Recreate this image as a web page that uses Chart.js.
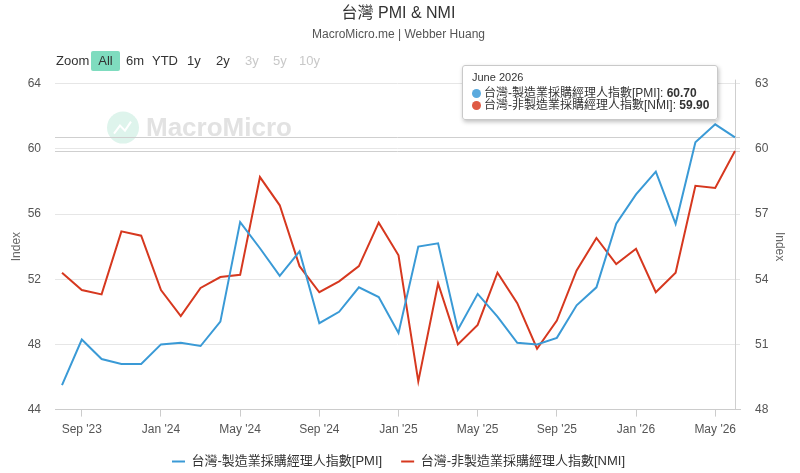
<!DOCTYPE html>
<html>
<head>
<meta charset="utf-8">
<title>台灣 PMI & NMI</title>
<script src="https://cdn.jsdelivr.net/npm/chart.js@4.4.1/dist/chart.umd.min.js"></script>
<style>
    body { margin: 0; background: #fff; font-family: "Liberation Sans", "Noto Sans CJK TC", sans-serif; }
    #wrap { position: relative; width: 800px; height: 473px; overflow: hidden; }
    #chart { position: absolute; left: 0; top: 0; }
    .zoom-bar { position: absolute; left: 0; top: 51px; height: 20px; font-size: 13px; color: #333; }
    .zoom-bar span { position: absolute; top: 0; height: 20px; line-height: 20px; white-space: nowrap; }
    .zoom-bar .btn-on { background: #7fdcbf; border-radius: 2px; text-align: center; }
    .zoom-bar .off { color: #c8c8c8; }
    #tip { position: absolute; top: 65px; background: rgba(255,255,255,0.97); border: 1px solid #c9c9c9; border-radius: 3px;
           box-shadow: 1px 2px 4px rgba(0,0,0,0.25); padding: 5px 8px 8px 9px; font-size: 12px; color: #333; white-space: nowrap; }
    #tip .ttl { font-size: 11px; margin-bottom: 4px; }
    #tip .row { line-height: 12px; }
    #tip .dot { display: inline-block; width: 9px; height: 9px; border-radius: 50%; margin-right: 3px; vertical-align: -1px; }
    #tip b { font-weight: bold; }
</style>
</head>
<body>
<div id="wrap">
    <canvas id="chart" width="800" height="473"></canvas>
    <div class="zoom-bar">
        <span style="left:56px">Zoom</span>
        <span class="btn-on" style="left:91px;width:29px">All</span>
        <span style="left:126px">6m</span>
        <span style="left:152px">YTD</span>
        <span style="left:187px">1y</span>
        <span style="left:216px">2y</span>
        <span class="off" style="left:245px">3y</span>
        <span class="off" style="left:273px">5y</span>
        <span class="off" style="left:299px">10y</span>
    </div>
    <div id="tip"></div>
</div>
<script>
const months = [
    "Aug '23", "Sep '23", "Oct '23", "Nov '23", "Dec '23",
    "Jan '24", "Feb '24", "Mar '24", "Apr '24", "May '24", "Jun '24", "Jul '24", "Aug '24", "Sep '24", "Oct '24", "Nov '24", "Dec '24",
    "Jan '25", "Feb '25", "Mar '25", "Apr '25", "May '25", "Jun '25", "Jul '25", "Aug '25", "Sep '25", "Oct '25", "Nov '25", "Dec '25",
    "Jan '26", "Feb '26", "Mar '26", "Apr '26", "May '26", "Jun '26"
];
const xTickLabels = ["Sep '23", "Jan '24", "May '24", "Sep '24", "Jan '25", "May '25", "Sep '25", "Jan '26", "May '26"];
const latestLabel = 'June 2026';

const pmiName = '台灣-製造業採購經理人指數[PMI]';
const nmiName = '台灣-非製造業採購經理人指數[NMI]';

const pmi = [45.5, 48.3, 47.1, 46.8, 46.8, 48.0, 48.1, 47.9, 49.4, 55.5, 53.9, 52.2, 53.7, 49.3, 50.0, 51.5, 50.9,
             48.7, 54.0, 54.2, 48.9, 51.1, 49.7, 48.1, 48.0, 48.4, 50.4, 51.5, 55.4, 57.2, 58.6, 55.4, 60.4, 61.5, 60.7];
const nmi = [54.3, 53.5, 53.3, 56.2, 56.0, 53.5, 52.3, 53.6, 54.1, 54.2, 58.7, 57.4, 54.6, 53.4, 53.9, 54.6, 56.6,
             55.1, 49.3, 53.8, 51.0, 51.9, 54.3, 52.9, 50.8, 52.1, 54.4, 55.9, 54.7, 55.4, 53.4, 54.3, 58.3, 58.2, 59.9];

const leftTicks = [44, 48, 52, 56, 60, 64];
const rightTicks = [48, 51, 54, 57, 60, 63];

const BLUE = '#3a9ad6';
const RED = '#d6381f';
const FONT = '"Liberation Sans", "Noto Sans CJK TC", sans-serif';

const last = months.length - 1;

// watermark + latest-value lines + crosshair
const decor = {
    id: 'decor',
    beforeDatasetsDraw(chart) {
        const { ctx, chartArea: a, scales } = chart;
        ctx.save();
        // watermark
        const cx = a.left + 68, cy = a.top + 44;
        ctx.fillStyle = '#def4ec';
        ctx.beginPath();
        ctx.arc(cx, cy, 16, 0, Math.PI * 2);
        ctx.fill();
        ctx.strokeStyle = '#ffffff';
        ctx.lineWidth = 2;
        ctx.beginPath();
        ctx.moveTo(cx - 9, cy + 6);
        ctx.lineTo(cx - 3, cy - 2);
        ctx.lineTo(cx + 2, cy + 3);
        ctx.lineTo(cx + 8, cy - 6);
        ctx.stroke();
        ctx.fillStyle = '#e2e2e2';
        ctx.font = 'bold 26px ' + FONT;
        ctx.textBaseline = 'middle';
        ctx.fillText('MacroMicro', cx + 23, cy + 1);

        ctx.strokeStyle = '#cfcfcf';
        ctx.lineWidth = 1;
        const y1 = Math.round(scales.y.getPixelForValue(pmi[last])) + 0.5;
        const y2 = Math.round(scales.y1.getPixelForValue(nmi[last])) + 0.5;
        const xl = Math.round(scales.x.getPixelForValue(last)) + 0.5;
        ctx.beginPath();
        ctx.moveTo(a.left, y1); ctx.lineTo(a.right, y1);
        ctx.moveTo(a.left, y2); ctx.lineTo(a.right, y2);
        ctx.moveTo(xl, a.top - 4); ctx.lineTo(xl, a.bottom);
        ctx.stroke();
        ctx.restore();
    }
};

const chart = new Chart(document.getElementById('chart'), {
    type: 'line',
    data: {
        datasets: [{
            label: pmiName,
            data: pmi.map((v, i) => ({ x: i, y: v })),
            borderColor: BLUE,
            backgroundColor: BLUE,
            borderWidth: 2,
            pointRadius: 0,
            yAxisID: 'y'
        }, {
            label: nmiName,
            data: nmi.map((v, i) => ({ x: i, y: v })),
            borderColor: RED,
            backgroundColor: RED,
            borderWidth: 2,
            pointRadius: 0,
            yAxisID: 'y1'
        }]
    },
    options: {
        responsive: false,
        animation: false,
        events: [],
        layout: { padding: { left: 6, right: 9, top: 0, bottom: -5 } },
        plugins: {
            title: {
                display: true,
                text: '台灣 PMI & NMI',
                color: '#333',
                font: { family: FONT, size: 16, weight: 'normal' },
                padding: { top: 4, bottom: 4 }
            },
            subtitle: {
                display: true,
                text: 'MacroMicro.me | Webber Huang',
                color: '#555',
                font: { family: FONT, size: 12 },
                padding: { top: 0, bottom: 42 }
            },
            legend: {
                position: 'bottom',
                labels: {
                    usePointStyle: true,
                    pointStyle: 'line',
                    pointStyleWidth: 13,
                    color: '#333',
                    font: { family: FONT, size: 13 },
                    padding: 19
                }
            },
            tooltip: { enabled: false }
        },
        scales: {
            x: {
                type: 'linear',
                min: -0.354,
                max: 34.253,
                afterBuildTicks: axis => {
                    axis.ticks = xTickLabels.map(l => ({ value: months.indexOf(l) }));
                },
                afterFit: axis => { axis.height -= 7; },
                ticks: {
                    callback: v => months[v],
                    color: '#555',
                    font: { family: FONT, size: 12 },
                    padding: 6,
                    maxRotation: 0,
                    autoSkip: false
                },
                grid: { drawOnChartArea: false, tickLength: 7, tickColor: '#ccc' },
                border: { color: '#ccc' }
            },
            y: {
                position: 'left',
                min: 44,
                max: 64,
                afterBuildTicks: axis => { axis.ticks = leftTicks.map(v => ({ value: v })); },
                afterFit: axis => { axis.width = 49; },
                ticks: { color: '#555', font: { family: FONT, size: 12 }, padding: 14 },
                grid: { color: '#e6e6e6', drawTicks: false },
                border: { display: false },
                title: { display: true, text: 'Index', color: '#666', font: { family: FONT, size: 12 }, padding: { top: 3, bottom: 4 } }
            },
            y1: {
                position: 'right',
                min: 48,
                max: 63,
                afterBuildTicks: axis => { axis.ticks = rightTicks.map(v => ({ value: v })); },
                afterFit: axis => { axis.width = 51; },
                ticks: { color: '#555', font: { family: FONT, size: 12 }, padding: 15 },
                grid: { drawOnChartArea: false, drawTicks: false },
                border: { display: false },
                title: { display: true, text: 'Index', color: '#666', font: { family: FONT, size: 12 }, padding: { top: 4, bottom: 4 } }
            }
        }
    },
    plugins: [decor]
});

// hover box for the latest month
const tip = document.getElementById('tip');
tip.innerHTML = `
    <div class="ttl">${latestLabel}</div>
    <div class="row"><span class="dot" style="background:#5aaade"></span>${pmiName}: <b>${pmi[last].toFixed(2)}</b></div>
    <div class="row"><span class="dot" style="background:#df5a44"></span>${nmiName}: <b>${nmi[last].toFixed(2)}</b></div>
`;
const lastX = chart.scales.x.getPixelForValue(last);
tip.style.left = (lastX - 17 - tip.offsetWidth) + 'px';
</script>
</body>
</html>
